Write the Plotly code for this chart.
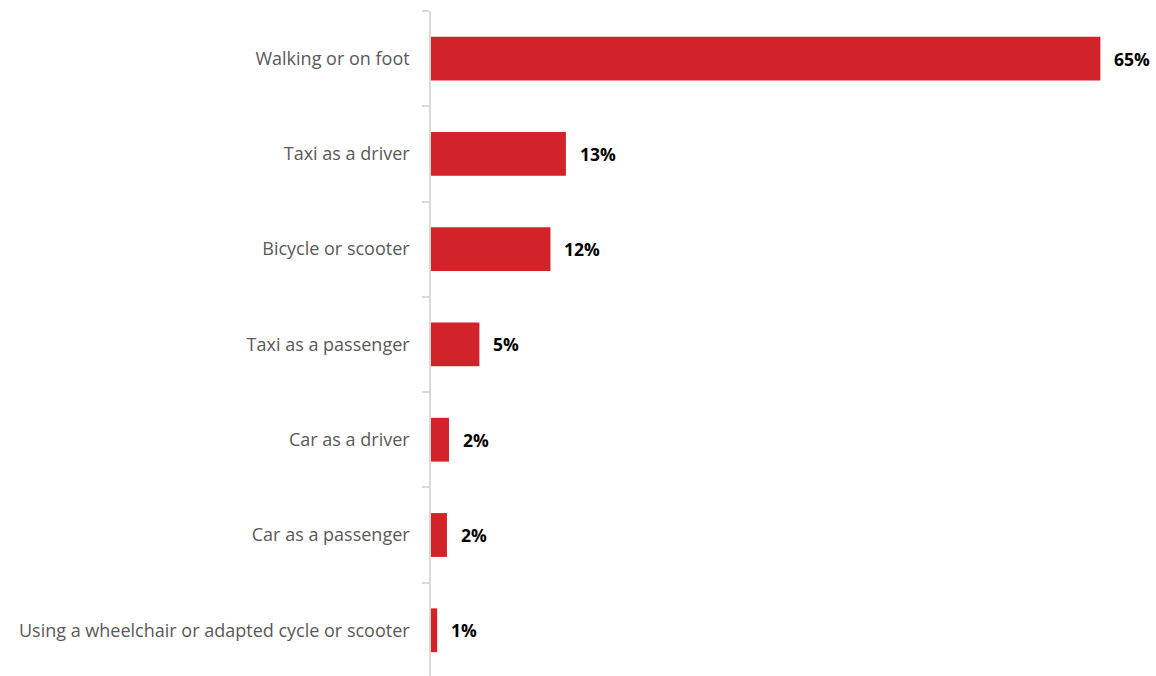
import plotly.graph_objects as go

# Share of respondents by mode of travel (percent)
modes = [
    "Walking or on foot",
    "Taxi as a driver",
    "Bicycle or scooter",
    "Taxi as a passenger",
    "Car as a driver",
    "Car as a passenger",
    "Using a wheelchair or adapted cycle or scooter",
]
shares = [65.0, 13.1, 11.6, 4.7, 1.75, 1.55, 0.6]

BAR_RED = "#D2232A"
LABEL_FONT = "'Open Sans', Lato, sans-serif"

fig = go.Figure(
    go.Bar(
        x=shares,
        y=modes,
        orientation="h",
        marker=dict(color=BAR_RED, line=dict(width=0)),
        width=0.46,
        hoverinfo="skip",
    )
)

# Value labels placed just right of each bar end
for mode, share in zip(modes, shares):
    fig.add_annotation(
        x=share,
        y=mode,
        text=f"<b>{share:.0f}%</b>",
        showarrow=False,
        xanchor="left",
        yanchor="middle",
        xshift=12,
        font=dict(family=LABEL_FONT, size=17.5, color="#000000"),
    )

fig.update_layout(
    width=1156,
    height=676,
    margin=dict(l=431, r=0, t=11, b=0),
    paper_bgcolor="white",
    plot_bgcolor="white",
    showlegend=False,
    bargap=0.54,
)

fig.update_xaxes(
    range=[0, 70.4],
    visible=False,
    showgrid=False,
    zeroline=False,
)

# Category axis runs top-to-bottom; the last band is trimmed at the bottom edge
fig.update_yaxes(
    type="category",
    categoryorder="array",
    categoryarray=modes,
    range=[6.48, -0.5],
    showline=True,
    linecolor="#D9D9D9",
    linewidth=1.5,
    ticks="outside",
    tickson="boundaries",
    ticklen=7,
    tickcolor="#D9D9D9",
    tickwidth=1.5,
    ticklabelstandoff=16,
    showgrid=False,
    zeroline=False,
    tickfont=dict(family=LABEL_FONT, size=18, color="#595959"),
)

fig.write_html("out.html")
